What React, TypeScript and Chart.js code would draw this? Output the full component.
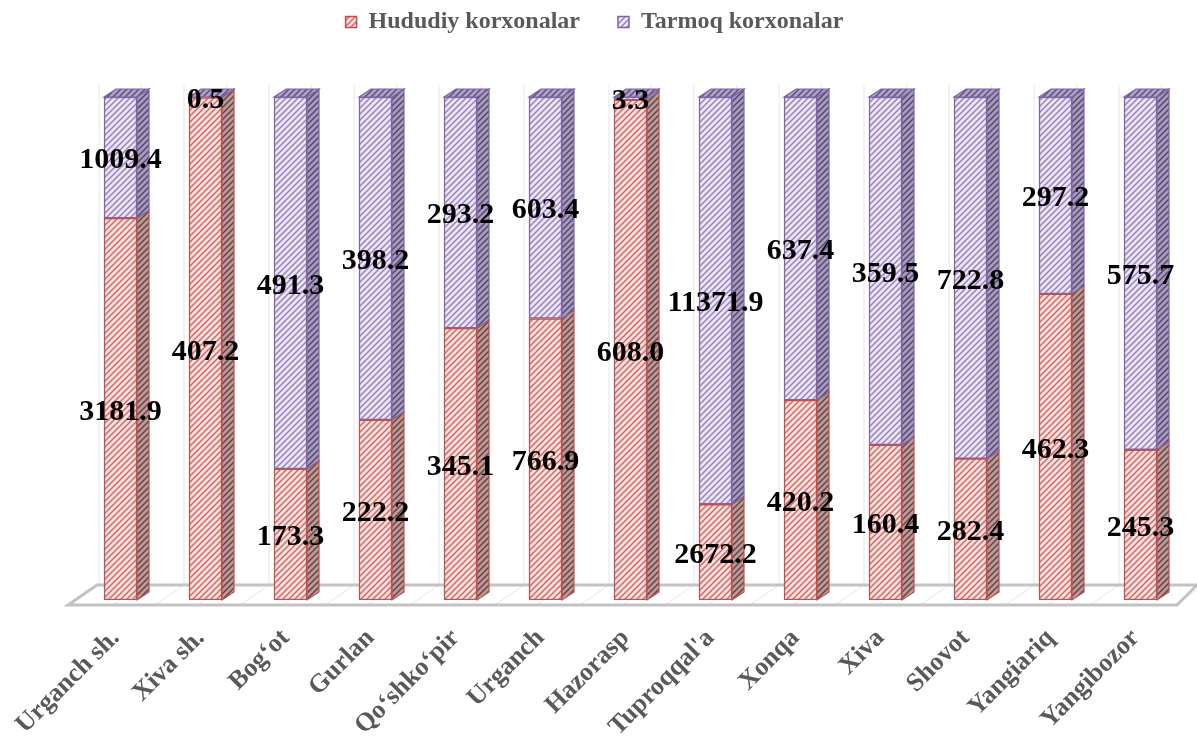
import React, { useEffect, useRef } from "react";
import { Chart, registerables } from "chart.js";

Chart.register(...registerables);

const categories = [
  "Urganch sh.",
  "Xiva sh.",
  "Bog‘ot",
  "Gurlan",
  "Qo‘shko‘pir",
  "Urganch",
  "Hazorasp",
  "Tuproqqal'a",
  "Xonqa",
  "Xiva",
  "Shovot",
  "Yangiariq",
  "Yangibozor",
];
const hududiy = [3181.9, 407.2, 173.3, 222.2, 345.1, 766.9, 608.0, 2672.2, 420.2, 160.4, 282.4, 462.3, 245.3];
const tarmoq = [1009.4, 0.5, 491.3, 398.2, 293.2, 603.4, 3.3, 11371.9, 637.4, 359.5, 722.8, 297.2, 575.7];
const seriesNames = ["Hududiy korxonalar", "Tarmoq korxonalar"];

const FONT = "'Liberation Serif', 'Times New Roman', serif";

function makePattern(bg: string, line: string, size = 6, lw = 1.5): CanvasPattern | string {
  const c = document.createElement("canvas");
  c.width = size;
  c.height = size;
  const x = c.getContext("2d");
  if (!x) return bg;
  x.fillStyle = bg;
  x.fillRect(0, 0, size, size);
  x.strokeStyle = line;
  x.lineWidth = lw;
  x.beginPath();
  x.moveTo(-1, size + 1);
  x.lineTo(size + 1, -1);
  x.moveTo(-size / 2 - 1, size / 2 + 1);
  x.lineTo(size / 2 + 1, -size / 2 - 1);
  x.moveTo(size / 2 - 1, size * 1.5 + 1);
  x.lineTo(size * 1.5 + 1, size / 2 - 1);
  x.stroke();
  const p = x.createPattern(c, "repeat");
  return p || bg;
}

export default function App() {
  const ref = useRef<HTMLCanvasElement | null>(null);

  useEffect(() => {
    document.body.style.margin = "0";
    const canvas = ref.current;
    if (!canvas) return;

    const redFront = makePattern("#fbe1df", "#d66864");
    const purpleFront = makePattern("#ebe5f5", "#9882c2");
    const redSide = makePattern("#b89c9b", "#6e403e");
    const purpleSide = makePattern("#a69cba", "#554573");
    const purpleTop = makePattern("#ada1c6", "#5e4f82");
    const redTop = makePattern("#d0a9a7", "#7e4240");

    const borders = ["#c0504d", "#8064a2"];
    const sides = [redSide, purpleSide];
    const tops = [redTop, purpleTop];
    const raw = [hududiy, tarmoq];

    const totals = categories.map((_, i) => hududiy[i] + tarmoq[i]);
    const pctH = hududiy.map((v, i) => (v / totals[i]) * 100);
    const pctT = tarmoq.map((v, i) => (v / totals[i]) * 100);

    const DX = 12;
    const DY = 8;
    const LEGEND_SHIFT = -36;

    const threeD = {
      id: "threeD",
      beforeInit(chart: any) {
        const lg = chart.legend;
        const orig = lg.fit;
        lg.fit = function () {
          orig.bind(lg)();
          this.height = 125;
        };
        const od = lg.draw;
        lg.draw = function (...args: any[]) {
          this.left += LEGEND_SHIFT;
          this.right += LEGEND_SHIFT;
          od.apply(this, args);
          this.left -= LEGEND_SHIFT;
          this.right -= LEGEND_SHIFT;
        };
      },
      beforeDatasetsDraw(chart: any) {
        const ctx = chart.ctx;
        const ca = chart.chartArea;
        const n = categories.length;
        const step = (ca.right - ca.left) / n;
        ctx.save();
        ctx.strokeStyle = "#e6e6e6";
        ctx.lineWidth = 1;
        for (let k = 0; k <= n * 2; k++) {
          const bx = ca.left + (k * step) / 2;
          ctx.beginPath();
          ctx.moveTo(bx + 21, ca.bottom - 15);
          ctx.lineTo(bx + 21, ca.top - 12);
          ctx.stroke();
          ctx.beginPath();
          ctx.moveTo(bx - 8, ca.bottom + 5);
          ctx.lineTo(bx + 21, ca.bottom - 15);
          ctx.stroke();
        }
        ctx.strokeStyle = "#c3c3c3";
        ctx.lineWidth = 3;
        ctx.lineJoin = "miter";
        ctx.beginPath();
        ctx.moveTo(ca.left - 10, ca.bottom + 5);
        ctx.lineTo(ca.right - 6, ca.bottom + 5);
        ctx.lineTo(ca.right + 14, ca.bottom - 15);
        ctx.lineTo(ca.left + 19, ca.bottom - 15);
        ctx.closePath();
        ctx.stroke();
        ctx.restore();
      },
      afterDatasetsDraw(chart: any) {
        const ctx = chart.ctx;
        ctx.save();
        const nds = chart.data.datasets.length;
        for (let d = 0; d < nds; d++) {
          const meta = chart.getDatasetMeta(d);
          meta.data.forEach((el: any) => {
            const p = el.getProps(["x", "y", "base", "width"], true);
            const r = p.x + p.width / 2;
            const l = p.x - p.width / 2;
            const top = Math.min(p.y, p.base);
            const bot = Math.max(p.y, p.base);
            ctx.beginPath();
            ctx.moveTo(r, top);
            ctx.lineTo(r + DX, top - DY);
            ctx.lineTo(r + DX, bot - DY);
            ctx.lineTo(r, bot);
            ctx.closePath();
            ctx.fillStyle = sides[d];
            ctx.fill();
            ctx.strokeStyle = borders[d];
            ctx.lineWidth = 1.2;
            ctx.stroke();
            if (d === nds - 1) {
              ctx.beginPath();
              ctx.moveTo(l, top);
              ctx.lineTo(l + DX, top - DY);
              ctx.lineTo(r + DX, top - DY);
              ctx.lineTo(r, top);
              ctx.closePath();
              ctx.fillStyle = tops[d];
              ctx.fill();
              ctx.strokeStyle = borders[d];
              ctx.stroke();
            }
          });
        }
        ctx.font = `bold 30px ${FONT}`;
        ctx.fillStyle = "#000000";
        ctx.textAlign = "center";
        ctx.textBaseline = "middle";
        for (let d = 0; d < nds; d++) {
          const meta = chart.getDatasetMeta(d);
          meta.data.forEach((el: any, i: number) => {
            const p = el.getProps(["x", "y", "base"], true);
            const cy = (p.y + p.base) / 2 + 3;
            ctx.fillText(raw[d][i].toFixed(1), p.x, cy);
          });
        }
        ctx.restore();
      },
    };

    const chart = new Chart(canvas, {
      type: "bar",
      data: {
        labels: categories,
        datasets: [
          {
            label: seriesNames[0],
            data: pctH,
            backgroundColor: redFront as any,
            borderColor: borders[0],
            borderWidth: 1.5,
            borderSkipped: false,
            barThickness: 33,
          },
          {
            label: seriesNames[1],
            data: pctT,
            backgroundColor: purpleFront as any,
            borderColor: borders[1],
            borderWidth: 1.5,
            borderSkipped: false,
            barThickness: 33,
          },
        ],
      },
      options: {
        animation: false,
        responsive: true,
        maintainAspectRatio: false,
        layout: { padding: { left: 78, right: 14, top: -28, bottom: 0 } },
        plugins: {
          tooltip: { enabled: false },
          legend: {
            position: "top",
            labels: {
              boxWidth: 11,
              boxHeight: 11,
              padding: 38,
              color: "#595959",
              font: { family: FONT, size: 24, weight: "bold" },
            },
          },
        },
        scales: {
          x: {
            stacked: true,
            grid: { display: false },
            border: { display: false },
            ticks: {
              autoSkip: false,
              minRotation: 45,
              maxRotation: 45,
              padding: 15,
              labelOffset: -5,
              color: "#595959",
              font: { family: FONT, size: 26, weight: "bold" },
            },
            afterFit: (scale: any) => {
              scale.height = 138;
            },
          },
          y: {
            stacked: true,
            display: false,
            min: 0,
            max: 100,
          },
        },
      },
      plugins: [threeD],
    });

    return () => chart.destroy();
  }, []);

  return (
    <div style={{ width: 1197, height: 738, position: "relative" }}>
      <canvas ref={ref} />
    </div>
  );
}
